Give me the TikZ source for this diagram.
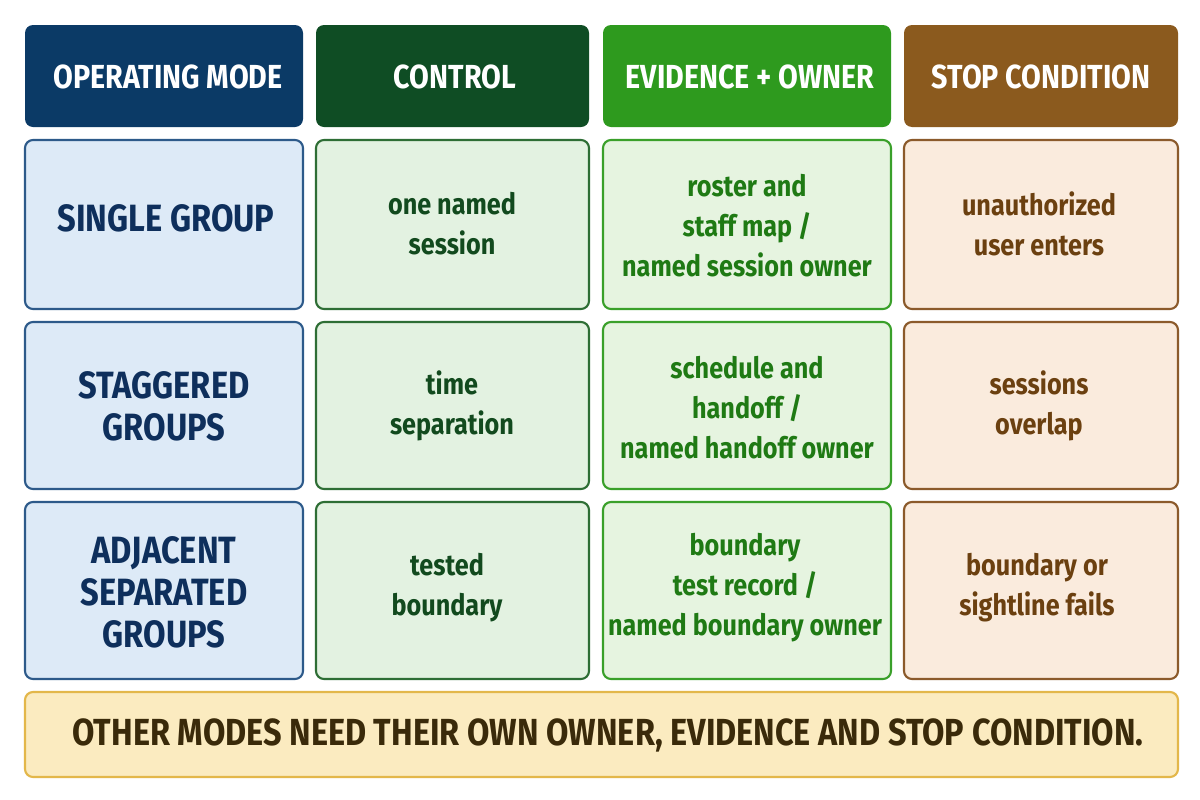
\documentclass[tikz,border=0pt]{standalone}
\usepackage{fontspec}
\setmainfont{Fira Sans}[FakeStretch=0.86,FontFace={b}{n}{Font=* SemiBold}]
\begin{document}
\begin{tikzpicture}[x=0.75pt,y=-0.75pt,
  cell/.style={rounded corners=6pt,line width=1.6pt},
  hd/.style={cell,text=white,font=\fontsize{25}{28}\selectfont\bfseries},
  bd/.style={font=\fontsize{22}{30}\selectfont\bfseries,align=center}]
\definecolor{h1}{HTML}{0B3A66}\definecolor{h2}{HTML}{0F4D24}
\definecolor{h3}{HTML}{2E9A1E}\definecolor{h4}{HTML}{8B5A1E}
\definecolor{f1}{HTML}{DDEAF7}\definecolor{b1}{HTML}{2D5A8A}\definecolor{t1}{HTML}{0E2F5C}
\definecolor{f2}{HTML}{E3F2E1}\definecolor{b2}{HTML}{2E6E35}\definecolor{t2}{HTML}{124A1E}
\definecolor{f3}{HTML}{E6F4E0}\definecolor{b3}{HTML}{3AA02A}\definecolor{t3}{HTML}{1F7A14}
\definecolor{f4}{HTML}{FAEBDD}\definecolor{b4}{HTML}{8B5A2B}\definecolor{t4}{HTML}{6B4010}
\definecolor{ff}{HTML}{FBEBC0}\definecolor{bf}{HTML}{E3B74A}\definecolor{tf}{HTML}{3A2A0A}
\useasboundingbox[fill=white] (0,0) rectangle (1200,800);
% headers
\fill[h1,rounded corners=6pt] (25,25) rectangle (303,127);
\fill[h2,rounded corners=6pt] (316,25) rectangle (589,127);
\fill[h3,rounded corners=6pt] (603,25) rectangle (891,127);
\fill[h4,rounded corners=6pt] (904,25) rectangle (1178,127);
\node[hd] (H1) at (168,77) {OPERATING MODE};
\node[hd] (H2) at (455,77) {CONTROL};
\node[hd] (H3) at (750,77) {EVIDENCE + OWNER};
\node[hd] (H4) at (1041,77) {STOP CONDITION};
% rows
\foreach \a/\b [count=\r] in {140/309,322/489,502/679}{
  \draw[cell,fill=f1,draw=b1] (25,\a) rectangle (303,\b);
  \draw[cell,fill=f2,draw=b2] (316,\a) rectangle (589,\b);
  \draw[cell,fill=f3,draw=b3] (603,\a) rectangle (891,\b);
  \draw[cell,fill=f4,draw=b4] (904,\a) rectangle (1178,\b);
}
\tikzset{md/.style={bd,text=t1,font=\fontsize{28.5}{31.5}\selectfont\bfseries}}
\node[md] (m1) at (166,218) {SINGLE GROUP};
\node[md] (m2) at (164,406) {STAGGERED\\GROUPS};
\node[md] (m3) at (164,592) {ADJACENT\\SEPARATED\\GROUPS};
\node[bd,text=t2] (c1) at (452,224) {one named\\session};
\node[bd,text=t2] (c2) at (452,406) {time\\separation};
\node[bd,text=t2] (c3) at (447,588) {tested\\boundary};
\node[bd,text=t3] (e1) at (747,226) {roster and\\staff map /\\named session owner};
\node[bd,text=t3] (e2) at (747,408) {schedule and\\handoff /\\named handoff owner};
\node[bd,text=t3] (e3) at (745,588) {boundary\\test record /\\named boundary owner};
\node[bd,text=t4] (s1) at (1039,224) {unauthorized\\user enters};
\node[bd,text=t4] (s2) at (1039,406) {sessions\\overlap};
\node[bd,text=t4] (s3) at (1037,588) {boundary or\\sightline fails};
% footer
\draw[cell,fill=ff,draw=bf] (25,692) rectangle (1178,777);
\node[font=\fontsize{28.3}{30}\selectfont\bfseries,text=tf] (ft) at (608,735) {OTHER MODES NEED THEIR OWN OWNER, EVIDENCE AND STOP CONDITION.};
\end{tikzpicture}
\end{document}
